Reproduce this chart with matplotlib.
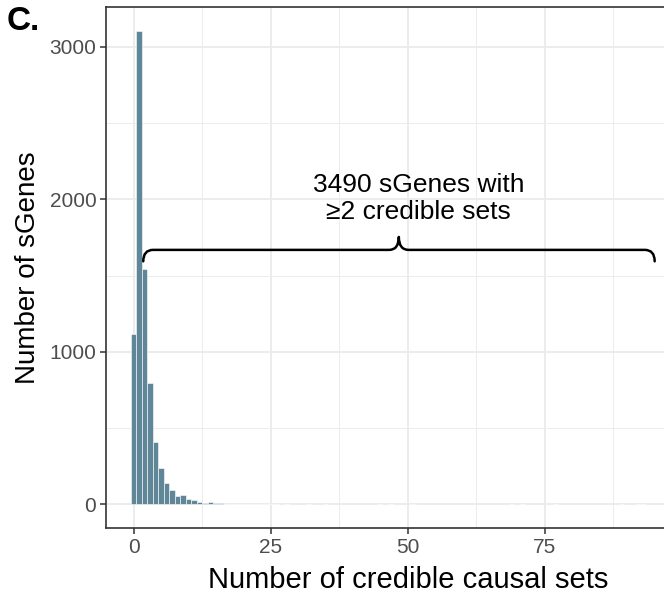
import matplotlib
matplotlib.use("Agg")
import matplotlib.pyplot as plt
from matplotlib.path import Path
from matplotlib.patches import PathPatch
from matplotlib.ticker import MultipleLocator

plt.rcParams['font.family'] = ['Liberation Sans', 'DejaVu Sans']

# Histogram data: number of credible causal sets per sGene
n_sets = [0, 1, 2, 3, 4, 5, 6, 7, 8, 9, 10, 11, 12, 13, 14, 15, 16,
          17, 18, 19, 20, 21, 22, 23, 24, 25, 26, 28, 32, 35, 45, 47,
          51, 69, 71, 77, 89, 92, 93]
n_genes = [1120, 3106, 1542, 798, 409, 236, 138, 94, 55, 64, 35, 28, 15, 9, 17, 6, 6,
           4, 3, 3, 2, 3, 2, 2, 1, 2, 1, 1, 1, 1, 1, 1,
           1, 1, 1, 1, 1, 1, 1]

annot_text = "3490 sGenes with\n\u22652 credible sets"

# brace geometry (data units)
brace_x0, brace_x1, brace_xm = 1.75, 95.1, 48.4
brace_y_end, brace_y, brace_y_tip = 1594, 1669, 1754
brace_rx = 1.8

fig = plt.figure(figsize=(6.64, 5.95), dpi=100)
# panel runs past the right edge of the (cropped) figure
ax = fig.add_axes([106 / 664, 67 / 595, 604 / 664, 521 / 595])

ax.bar(n_sets, n_genes, width=1.0, color="#5f8797", edgecolor="white",
       linewidth=0.4, zorder=2)

ax.set_xlim(-5.05, 105.2)
ax.set_ylim(-155, 3262)

ax.xaxis.set_major_locator(MultipleLocator(25))
ax.xaxis.set_minor_locator(MultipleLocator(12.5))
ax.yaxis.set_major_locator(MultipleLocator(1000))
ax.yaxis.set_minor_locator(MultipleLocator(500))
ax.set_xticks([0, 25, 50, 75])
ax.grid(which="major", color="#ebebeb", linewidth=1.3, zorder=0)
ax.grid(which="minor", color="#ebebeb", linewidth=0.65, zorder=0)
ax.set_axisbelow(True)

for s in ax.spines.values():
    s.set_color("#333333")
    s.set_linewidth(1.2)

ax.tick_params(which="major", length=4, width=1.1, color="#333333",
               labelsize=15, labelcolor="#4d4d4d", pad=3)
ax.tick_params(which="minor", length=0)

ax.set_xlabel("Number of credible causal sets", fontsize=21, labelpad=7)
ax.set_ylabel("Number of sGenes", fontsize=20, labelpad=6)

# curly brace
verts = [
    (brace_x0, brace_y_end), (brace_x0, brace_y), (brace_x0 + brace_rx, brace_y),
    (brace_xm - brace_rx, brace_y),
    (brace_xm, brace_y), (brace_xm, brace_y_tip),
    (brace_xm, brace_y), (brace_xm + brace_rx, brace_y),
    (brace_x1 - brace_rx, brace_y),
    (brace_x1, brace_y), (brace_x1, brace_y_end),
]
codes = [Path.MOVETO, Path.CURVE3, Path.CURVE3,
         Path.LINETO,
         Path.CURVE3, Path.CURVE3,
         Path.CURVE3, Path.CURVE3,
         Path.LINETO,
         Path.CURVE3, Path.CURVE3]
ax.add_patch(PathPatch(Path(verts, codes), facecolor="none", edgecolor="black",
                       linewidth=1.8, capstyle="round", joinstyle="round", zorder=3))

ax.text(52, 2008, annot_text, ha="center", va="center", fontsize=19,
        linespacing=1.15, zorder=4)

fig.text(7 / 664, 1 - 22 / 595, "C.", fontsize=24, fontweight="bold",
         va="center", ha="left")

fig.savefig("out.png", dpi=100)
